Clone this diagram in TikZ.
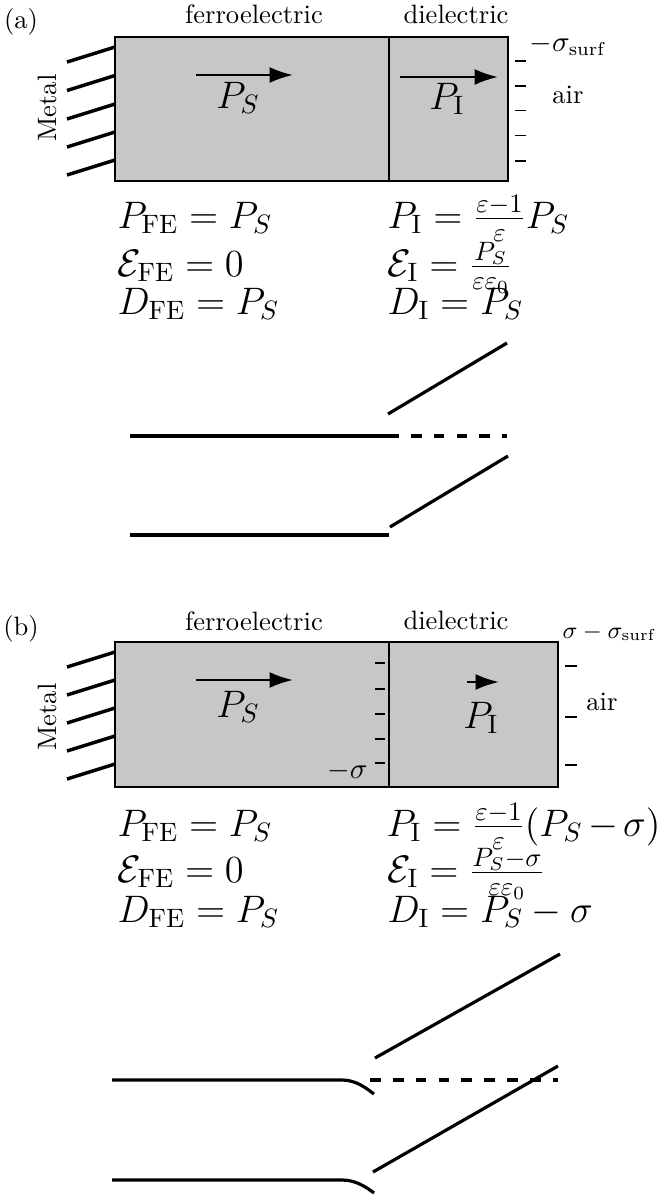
\documentclass[tikz,border=0pt]{standalone}
\usetikzlibrary{arrows.meta}
\begin{document}
\begin{tikzpicture}[x=0.376pt,y=-0.376pt,
  thickline/.style={line width=1.2pt},
  metalline/.style={line width=1.3pt},
  boxline/.style={line width=1pt, fill=black!22},
  chargemark/.style={line width=0.6pt},
  polarrow/.style={line width=0.9pt,-{Latex[length=8.8pt,width=6pt]}},
  eq/.style={anchor=base west, inner sep=0pt, font=\fontsize{14}{17}\selectfont},
  bigsym/.style={anchor=base, inner sep=0pt, font=\fontsize{14}{17}\selectfont},
  lbl/.style={anchor=base, inner sep=0pt},
  smalllbl/.style={inner sep=0pt, font=\fontsize{10.5}{12}\selectfont},
  banddash/.style={line width=1.2pt, dash pattern=on 4pt off 4.6pt}]
\useasboundingbox (0,0) rectangle (661,1199);

% ================= (a) =================
\node[lbl] (la) at (21,28) {(a)};
\node[lbl] (fea) at (254,23) {ferroelectric};
\node[lbl] (dea) at (456,23) {dielectric};
\draw[boxline] (115,37) rectangle (508,181);
\draw[line width=1pt] (389,37) -- (389,181);
\foreach \y in {47,75.5,104,132,160}
  \draw[metalline] (67,\y+15) -- (115,\y);
\node[rotate=90, inner sep=0pt] (meta) at (47,108) {Metal};
\draw[polarrow] (196,75) -- (293,75);
\node[bigsym] (psa) at (238,108) {$P_S$};
\draw[polarrow] (400,77) -- (498,77);
\node[bigsym] (pia) at (447,109) {$P_{\mathrm{I}}$};
\foreach \y in {61,86,110.5,135.5,161}
  \draw[chargemark] (515,\y) -- (526,\y);
\node[smalllbl, anchor=base west] (sa) at (529,51) {$-\sigma_{\mathrm{surf}}$};
\node[lbl] (aira) at (568,103) {air};

\node[eq] (a1) at (117,228) {$P_{\mathrm{FE}} = P_S$};
\node[eq] (a2) at (117,276) {$\mathcal{E}_{\mathrm{FE}} = 0$};
\node[eq] (a3) at (117,314) {$D_{\mathrm{FE}} = P_S$};
\node[eq] (a4) at (387,228) {$P_{\mathrm{I}} = \frac{\varepsilon-1}{\varepsilon}P_S$};
\node[eq] (a5) at (387,276) {$\mathcal{E}_{\mathrm{I}} = \frac{P_S}{\varepsilon\varepsilon_0}$};
\node[eq] (a6) at (387,314) {$D_{\mathrm{I}} = P_S$};

\coordinate (au1) at (130,436);
\coordinate (au2) at (388,436);
\coordinate (au3) at (507,436);
\draw[thickline] (au1) -- (au2);
\draw[banddash] (au2) -- (au3);
\draw[thickline] (388,414) -- (507,343);
\draw[thickline] (130,535) -- (389,535);
\draw[thickline] (390,527) -- (508,456);

% ================= (b) =================
\node[lbl] (lb) at (21,635) {(b)};
\node[lbl] (feb) at (254,630) {ferroelectric};
\node[lbl] (deb) at (456,629) {dielectric};
\draw[boxline] (115,642) rectangle (558,787);
\draw[line width=1pt] (389,642) -- (389,787);
\foreach \y in {652,680,708,736,764}
  \draw[metalline] (67,\y+15) -- (115,\y);
\node[rotate=90, inner sep=0pt] (metb) at (47,717) {Metal};
\draw[polarrow] (196,680) -- (293,680);
\node[bigsym] (psb) at (238,717) {$P_S$};
\draw[polarrow] (467,682) -- (499,682);
\node[bigsym] (pib) at (481,728) {$P_{\mathrm{I}}$};
\foreach \y in {663,689,714,739,763}
  \draw[chargemark] (375,\y) -- (385,\y);
\node[smalllbl, anchor=base east] (sgb) at (368,778) {$-\sigma$};
\foreach \y in {666,717,765}
  \draw[chargemark] (565,\y) -- (577,\y);
\node[inner sep=0pt, font=\small, anchor=base west] (sb) at (562,638) {$\sigma - \sigma_{\mathrm{surf}}$};
\node[lbl] (airb) at (602,710) {air};

\node[eq] (b1) at (117,836) {$P_{\mathrm{FE}} = P_S$};
\node[eq] (b2) at (117,882) {$\mathcal{E}_{\mathrm{FE}} = 0$};
\node[eq] (b3) at (117,922) {$D_{\mathrm{FE}} = P_S$};
\node[eq] (b4) at (386,836) {$\medmuskip=2.5mu P_{\mathrm{I}} = \frac{\varepsilon-1}{\varepsilon}(P_S - \sigma)$};
\node[eq] (b5) at (387,882) {$\mathcal{E}_{\mathrm{I}} = \frac{P_S - \sigma}{\varepsilon\varepsilon_0}$};
\node[eq] (b6) at (387,922) {$D_{\mathrm{I}} = P_S - \sigma$};

\draw[thickline] (112,1080) -- (342,1080) .. controls (356,1080) and (366,1088) .. (374,1094);
\draw[banddash] (370,1080) -- (558,1080);
\draw[thickline] (375,1058) -- (560,954);
\draw[thickline] (373,1172) -- (558,1066);
\draw[thickline] (112,1180) -- (342,1180) .. controls (356,1180) and (366,1187) .. (374,1193);
\end{tikzpicture}
\end{document}
